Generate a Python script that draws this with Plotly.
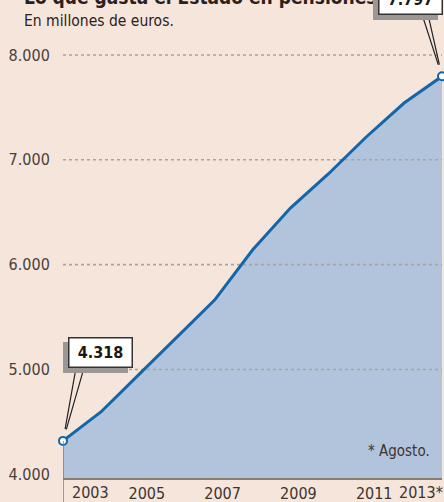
import plotly.graph_objects as go

years = [2003, 2004, 2005, 2006, 2007, 2008, 2009, 2010, 2011, 2012, 2013]
gasto = [4318, 4594, 4950, 5306, 5662, 6139, 6540, 6865, 7218, 7542, 7797]
y_ticks = [4000, 5000, 6000, 7000, 8000]
y_ticktext = ["4.000", "5.000", "6.000", "7.000", "8.000"]
grid_vals = [5000, 6000, 7000, 8000]
x_tickvals = [2005, 2007, 2009, 2011]
x_ticktext = ["2005", "2007", "2009", "2011"]
first_label = "2003"
last_label = "2013*"
title = "Lo que gasta el Estado en pensiones"
subtitle = "En millones de euros."
note = "* Agosto."

BG = "#f6e5db"
FILL = "#b1c4dc"
LINE = "#1566a8"
GRID = "#a9a39d"
TXT = "#3d3431"
AXIS = "#8d7c72"
NARROW = "DejaVu Sans Condensed, Liberation Sans Narrow, sans-serif"

YMIN, YMAX = 3964, 8525

fig = go.Figure()
# area
fig.add_trace(go.Scatter(x=years, y=gasto, mode="lines", fill="tozeroy",
                         fillcolor=FILL, line=dict(color=FILL, width=0),
                         hoverinfo="skip", showlegend=False))
# dotted gridlines above the area
for g in grid_vals:
    fig.add_trace(go.Scatter(x=[years[0], years[-1]], y=[g, g], mode="lines",
                             line=dict(color=GRID, width=1.6, dash="dot"),
                             hoverinfo="skip", showlegend=False))
# main line
fig.add_trace(go.Scatter(x=years, y=gasto, mode="lines",
                         line=dict(color=LINE, width=3),
                         showlegend=False))
# end markers
fig.add_trace(go.Scatter(x=[years[0], years[-1]], y=[gasto[0], gasto[-1]],
                         mode="markers", cliponaxis=False,
                         marker=dict(size=8, color="white",
                                     line=dict(color=LINE, width=2)),
                         showlegend=False))

ann = []
# title (cut at top) and subtitle
ann.append(dict(text="<b>" + title + "</b>", xref="paper", yref="paper",
                x=-63 / 379, y=1, xanchor="left", yanchor="middle",
                xshift=22, yshift=3, showarrow=False,
                font=dict(family=NARROW, size=19, color="#2a211e")))
ann.append(dict(text=subtitle, xref="paper", yref="paper",
                x=-63 / 379, y=1, xanchor="left", yanchor="middle",
                xshift=22, yshift=-21, showarrow=False,
                font=dict(family=NARROW, size=15.5, color="#2a211e")))
# note
ann.append(dict(text=note, xref="paper", yref="paper", x=1, y=0,
                xanchor="right", yanchor="middle", xshift=-10, yshift=27,
                showarrow=False, font=dict(family=NARROW, size=15, color=TXT)))
# edge x labels
ann.append(dict(text=first_label, xref="x", yref="paper", x=years[0], y=0,
                xanchor="left", yanchor="top", xshift=7, yshift=-3,
                showarrow=False, font=dict(family=NARROW, size=16, color=TXT)))
ann.append(dict(text=last_label, xref="x", yref="paper", x=years[-1], y=0,
                xanchor="right", yanchor="top", xshift=3, yshift=-3,
                showarrow=False, font=dict(family=NARROW, size=16, color=TXT)))

# callouts: pointer (two lines forming a narrow triangle), shadow, box
def callout(xv, yv, label, dx, dy, base):
    for bx in base:
        ann.append(dict(text="", x=xv, y=yv, xref="x", yref="y",
                        ax=bx, ay=-dy + 15, showarrow=True, arrowhead=0,
                        arrowwidth=1.2, arrowcolor="#222", standoff=12))
    ann.append(dict(text="<b>" + label + "</b>", x=xv, y=yv, xref="x", yref="y",
                    showarrow=False, xshift=dx - 5, yshift=dy - 5,
                    bgcolor="#9b9794", bordercolor="#9b9794", borderwidth=1.5,
                    borderpad=2, width=58, height=24,
                    font=dict(family=NARROW, size=16, color="#9b9794")))
    ann.append(dict(text="<b>" + label + "</b>", x=xv, y=yv, xref="x", yref="y",
                    showarrow=False, xshift=dx, yshift=dy,
                    bgcolor="white", bordercolor="#333", borderwidth=1.5,
                    borderpad=2, width=58, height=24,
                    font=dict(family=NARROW, size=16, color="#1d1715")))

callout(years[0], gasto[0], "4.318", 37.5, 88, [13, 21])
callout(years[-1], gasto[-1], "7.797", -32, 77, [-20, -14])

fig.update_layout(
    width=444, height=502,
    margin=dict(l=63, r=2, t=0, b=24),
    paper_bgcolor=BG, plot_bgcolor=BG,
    annotations=ann,
    xaxis=dict(range=[years[0], years[-1]], showgrid=False, zeroline=False,
               tickvals=x_tickvals, ticktext=x_ticktext, ticks="",
               ticklabelshift=8,
               tickfont=dict(family=NARROW, size=16, color=TXT),
               showline=True, linecolor=AXIS, linewidth=2),
    yaxis=dict(range=[YMIN, YMAX], showgrid=False, zeroline=False,
               tickvals=y_ticks, ticktext=y_ticktext,
               ticks="outside", ticklen=9, tickcolor="rgba(0,0,0,0)",
               tickfont=dict(family=NARROW, size=16, color="#4a403b"),
               showline=False),
    shapes=[dict(type="line", xref="x", yref="paper",
                 x0=years[0], x1=years[0], y0=-0.06,
                 y1=(gasto[0] - YMIN) / (YMAX - YMIN),
                 line=dict(color=AXIS, width=1.5), layer="above")],
)

fig.write_html("out.html", config={"displayModeBar": False},
               post_script="document.body.style.margin='0px';document.body.style.overflow='hidden';")
